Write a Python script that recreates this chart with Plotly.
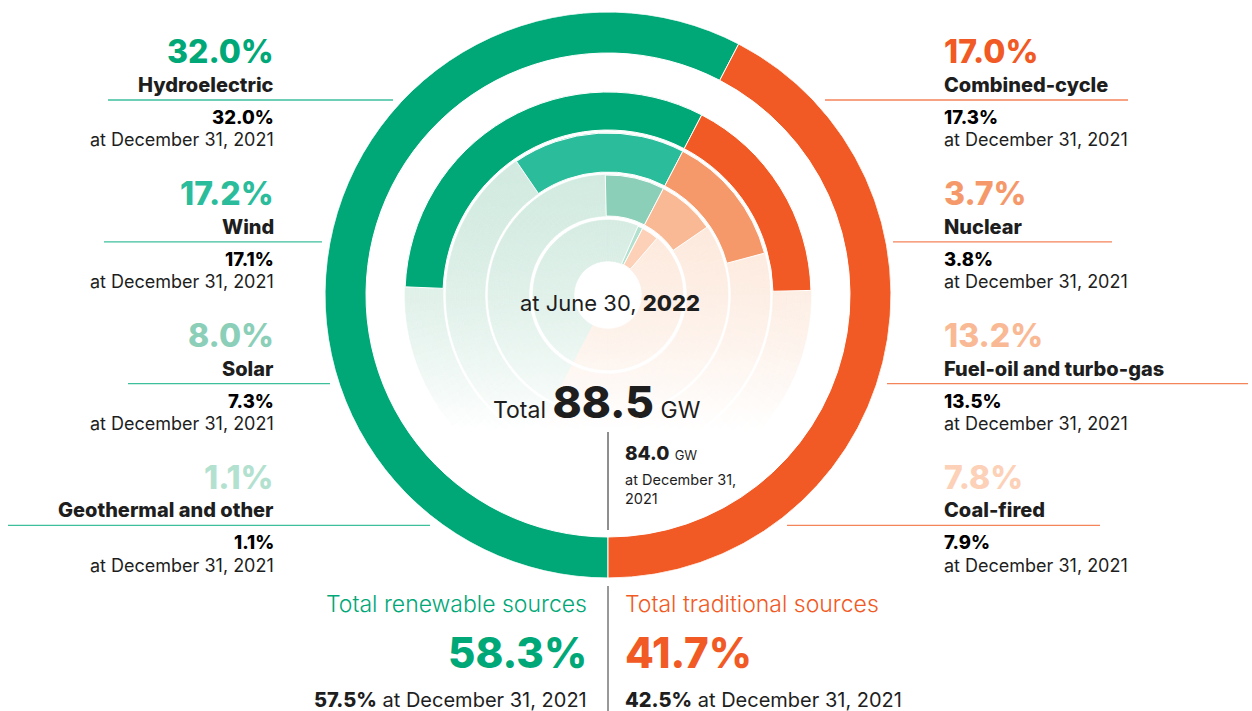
import math
import plotly.graph_objects as go

W, H = 1252, 711

# ---------------- data ----------------
renewable_labels = ["Hydroelectric", "Wind", "Solar", "Geothermal and other"]
renewable_2022 = [32.0, 17.2, 8.0, 1.1]
renewable_2021 = [32.0, 17.1, 7.3, 1.1]

traditional_labels = ["Combined-cycle", "Nuclear", "Fuel-oil and turbo-gas", "Coal-fired"]
traditional_2022 = [17.0, 3.7, 13.2, 7.8]
traditional_2021 = [17.3, 3.8, 13.5, 7.9]

group_labels = ["Total renewable sources", "Total traditional sources"]
group_share_2022 = [58.3, 41.7]
group_share_2021 = [57.5, 42.5]

total_gw = [88.5, 84.0]          # June 30, 2022 / December 31, 2021
date_2022 = "June 30, 2022"
date_2021 = "December 31, 2021"

# ---------------- style ----------------
FONT = "Inter"
GREENS = ["#00a878", "#2bbd9b", "#8ccfb9", "#b3e1d0"]
ORANGES = ["#f15a24", "#f5996b", "#f9b995", "#fcd1b8"]
LINE_G = "#3dbf9c"
LINE_O = "#f4845a"
INK = "#1e1e1e"

CX, CY, R_MAX = 608, 295, 283
OUTER = (242, 283)
RINGS = [(165, 203), (123, 162), (79, 120), (34, 75)]
BOUND = 27.5            # angle (deg, clockwise from top) of renewable/traditional split
DEG = 3.6               # degrees per percentage point
TOP_G = (207, 233, 222)
TOP_O = (252, 229, 214)
GRAD_Y0, GRAD_Y1 = 92, 430


def rank_rings(vals):
    order = sorted(range(len(vals)), key=lambda i: -vals[i])
    ring = [0] * len(vals)
    for pos, i in enumerate(order):
        ring[i] = pos
    return ring


def mix(c, a):
    return "rgb(%d,%d,%d)" % tuple(round(255 - a * (255 - v)) for v in c)


fig = go.Figure()

# ---- faded background (cells coloured by vertical position) ----
bg_r, bg_b, bg_t, bg_c = [], [], [], []
STEP_A = 2.5
for (r0, r1) in RINGS:
    nsub = 8
    dr = (r1 - r0) / nsub
    for j in range(nsub):
        rb = r0 + j * dr
        rm = rb + dr / 2
        for i in range(int(360 / STEP_A)):
            th = BOUND + STEP_A * (i + 0.5)
            trad = ((th - BOUND) % 360) < 180
            y = CY - rm * math.cos(math.radians(th))
            t = min(max((y - GRAD_Y0) / (GRAD_Y1 - GRAD_Y0), 0), 1)
            a = 1 - t * t
            bg_r.append(dr)
            bg_b.append(rb)
            bg_t.append(th)
            bg_c.append(mix(TOP_O if trad else TOP_G, a))
fig.add_trace(go.Barpolar(
    r=bg_r, base=bg_b, theta=bg_t, width=[STEP_A] * len(bg_r),
    marker=dict(color=bg_c, line=dict(color=bg_c, width=0.6)),
    hoverinfo="skip", showlegend=False))

# ---- outer ring: renewable vs traditional ----
span_g = 180 + BOUND
span_o = 180 - BOUND
fig.add_trace(go.Barpolar(
    r=[OUTER[1] - OUTER[0]] * 2, base=[OUTER[0]] * 2,
    theta=[BOUND - span_g / 2, BOUND + span_o / 2], width=[span_g, span_o],
    marker=dict(color=[GREENS[0], ORANGES[0]], line=dict(color="white", width=1)),
    hovertext=[f"{group_labels[0]}: {group_share_2022[0]}%", f"{group_labels[1]}: {group_share_2022[1]}%"],
    hoverinfo="text", showlegend=False))

# ---- inner rings: each source, one ring per rank ----
for labels, vals, pal, sign in [(renewable_labels, renewable_2022, GREENS, -1),
                                (traditional_labels, traditional_2022, ORANGES, 1)]:
    rings = rank_rings(vals)
    spans = [v * DEG for v in vals]
    fig.add_trace(go.Barpolar(
        r=[RINGS[k][1] - RINGS[k][0] for k in rings],
        base=[RINGS[k][0] for k in rings],
        theta=[BOUND + sign * s / 2 for s in spans],
        width=spans,
        marker=dict(color=[pal[k] for k in rings], line=dict(color="white", width=1)),
        hovertext=[f"{l}: {v}%" for l, v in zip(labels, vals)],
        hoverinfo="text", showlegend=False))

fig.update_layout(
    width=W, height=H, margin=dict(l=0, r=0, t=0, b=0),
    paper_bgcolor="white", plot_bgcolor="white",
    polar=dict(
        domain=dict(x=[(CX - R_MAX) / W, (CX + R_MAX) / W],
                    y=[1 - (CY + R_MAX) / H, 1 - (CY - R_MAX) / H]),
        bgcolor="rgba(0,0,0,0)",
        barmode="overlay", bargap=0, hole=0,
        radialaxis=dict(range=[0, R_MAX], visible=False),
        angularaxis=dict(visible=False, rotation=90, direction="clockwise"),
    ),
)

# ---------------- text ----------------
anns = []
shapes = []


def ann(text, x, y, size, color, xanchor, weight="normal"):
    anns.append(dict(text=text, x=x / W, y=1 - y / H, xref="paper", yref="paper",
                     xanchor=xanchor, yanchor="middle", align=xanchor if xanchor != "center" else "center",
                     showarrow=False,
                     font=dict(family=FONT, size=size, color=color, weight=weight)))


def hline(x0, x1, y, color):
    shapes.append(dict(type="line", xref="paper", yref="paper",
                       x0=x0 / W, x1=x1 / W, y0=1 - y / H, y1=1 - y / H,
                       line=dict(color=color, width=1.3)))


LEFT_X, RIGHT_X = 276, 942
ROW = 141.8
left_lines = [(108, 393), (104, 322), (128, 330), (8, 430)]
right_lines = [(825, 1128), (893, 1112), (887, 1248), (787, 1100)]

for k in range(4):
    dy = ROW * k
    # renewables (left)
    ann(f"{renewable_2022[k]:.1f}%", LEFT_X, 52 + dy, 32, GREENS[k], "right", 800)
    ann(renewable_labels[k], LEFT_X, 85 + dy, 20, INK, "right", 800)
    hline(*left_lines[k], 100 + dy, LINE_G)
    ann(f"{renewable_2021[k]:.1f}%", LEFT_X, 117 + dy, 18.5, "#000000", "right", 800)
    ann(f"at {date_2021}", LEFT_X, 140 + dy, 18, INK, "right")
    # traditional (right)
    ann(f"{traditional_2022[k]:.1f}%", RIGHT_X, 52 + dy, 32, ORANGES[k], "left", 800)
    ann(traditional_labels[k], RIGHT_X, 85 + dy, 20, INK, "left", 800)
    hline(*right_lines[k], 100 + dy, LINE_O)
    ann(f"{traditional_2021[k]:.1f}%", RIGHT_X, 117 + dy, 18.5, "#000000", "left", 800)
    ann(f"at {date_2021}", RIGHT_X, 140 + dy, 18, INK, "left")

# centre
ann(f"at {date_2022.split(',')[0]}, <span style='font-weight:800'>{date_2022.split(', ')[1]}</span>",
    610, 303, 22, INK, "center")
ann(f"Total <span style='font-size:44px;font-weight:800'>{total_gw[0]:.1f}</span> GW",
    597, 402, 23, INK, "center")
ann(f"<span style='font-weight:800'>{total_gw[1]:.1f}</span> <span style='font-size:13px'>GW</span>",
    623, 453, 19, INK, "left")
ann(f"at {date_2021.split(' 2')[0]}<br>{date_2021.split(', ')[1]}", 623, 489, 14.5, INK, "left")
shapes.append(dict(type="line", xref="paper", yref="paper", x0=608 / W, x1=608 / W,
                   y0=1 - 432 / H, y1=1 - 530 / H, line=dict(color=INK, width=1)))

# bottom totals
ann(group_labels[0], 589, 604, 23, GREENS[0], "right", 300)
ann(f"{group_share_2022[0]:.1f}%", 589, 652, 42, GREENS[0], "right", 800)
ann(f"<span style='font-weight:800'>{group_share_2021[0]:.1f}%</span> at {date_2021}",
    589, 700, 20, INK, "right")
ann(group_labels[1], 623, 604, 23, ORANGES[0], "left", 300)
ann(f"{group_share_2022[1]:.1f}%", 623, 652, 42, ORANGES[0], "left", 800)
ann(f"<span style='font-weight:800'>{group_share_2021[1]:.1f}%</span> at {date_2021}",
    623, 700, 20, INK, "left")
shapes.append(dict(type="line", xref="paper", yref="paper", x0=608 / W, x1=608 / W,
                   y0=1 - 586 / H, y1=0, line=dict(color="#333333", width=1)))

fig.update_layout(annotations=anns, shapes=shapes)
fig.write_html("out.html", config={"displayModeBar": False},
               post_script="document.body.style.margin='0px';")
